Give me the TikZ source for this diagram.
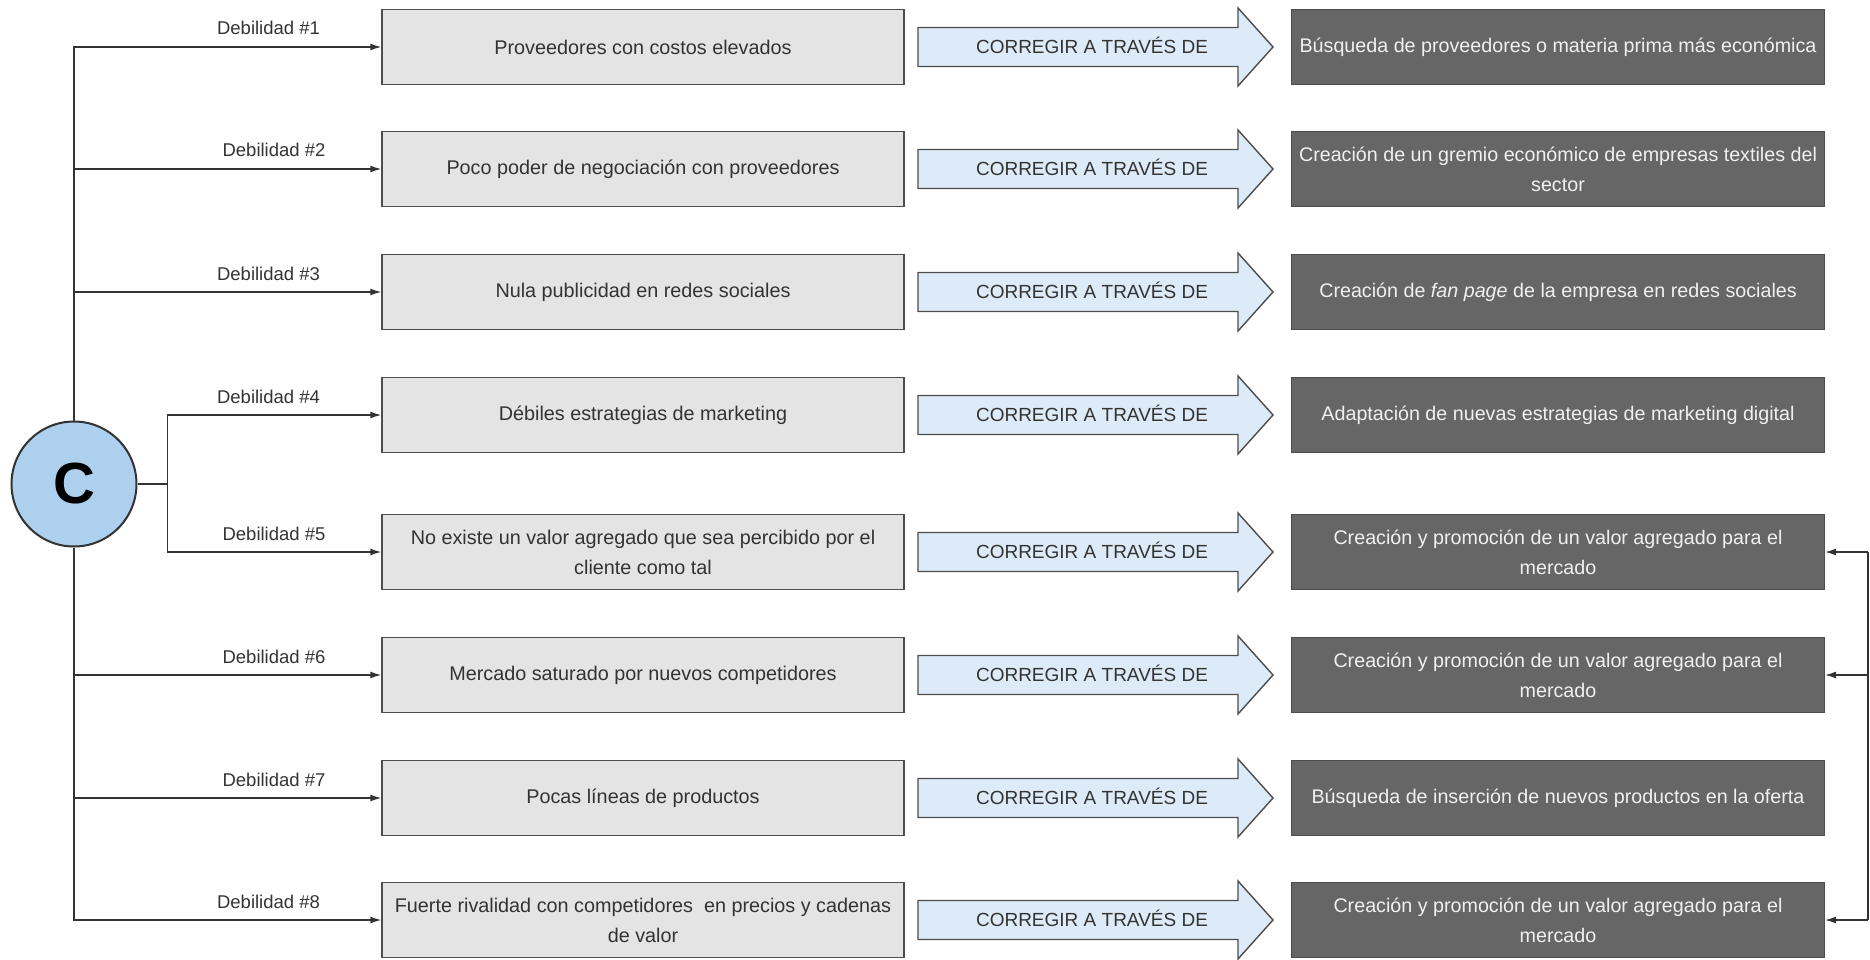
\documentclass[tikz,border=0pt]{standalone}
\usepackage{fontspec}
\setmainfont{Liberation Sans}
\usetikzlibrary{arrows.meta}
\definecolor{linec}{HTML}{333333}
\definecolor{boxline}{HTML}{4D4D4D}
\definecolor{weakfill}{HTML}{E4E4E4}
\definecolor{arrowfill}{HTML}{DCEBF7}
\definecolor{fixfill}{HTML}{666666}
\definecolor{fixtext}{HTML}{F0F0F0}
\definecolor{textdark}{HTML}{333333}
\definecolor{hubfill}{HTML}{AED0EF}
\begin{document}
\begin{tikzpicture}[x=1pt,y=-1pt,
  wire/.style={draw=linec, line width=1.4pt},
  tipped/.style={wire, -{Latex[length=11pt,width=7pt]}},
  weak/.style={draw=boxline, line width=1.4pt, fill=weakfill, text=textdark,
    minimum width=522pt, minimum height=75pt, inner sep=0pt, align=center,
    font=\fontsize{19.8}{30}\selectfont},
  fix/.style={draw=boxline, line width=1pt, fill=fixfill, text=fixtext,
    minimum width=533pt, minimum height=75pt, inner sep=0pt, align=center,
    font=\fontsize{19.7}{30}\selectfont},
  corr/.style={text=textdark, font=\fontsize{19}{22}\selectfont, inner sep=0pt,
    text height=13.6pt, text depth=0pt},
  corrbody/.style={draw=boxline, line width=1.4pt, fill=arrowfill},
  lbl/.style={text=textdark, font=\fontsize{18.5}{22}\selectfont, anchor=base, inner sep=0pt},
  hubstyle/.style={circle, draw=linec, line width=2pt, fill=hubfill, minimum size=125pt,
    inner sep=0pt, font=\fontsize{58}{60}\bfseries\selectfont, text=black}
]
\useasboundingbox (0,0) rectangle (1870,960);

% central hub
\node[hubstyle] (hub) at (74,484) {C};

% weaknesses (left column)
\node[weak] (w1) at (643,47)  {Proveedores con costos elevados};
\node[weak] (w2) at (643,169) {Poco poder de negociación con proveedores};
\node[weak] (w3) at (643,292) {Nula publicidad en redes sociales};
\node[weak] (w4) at (643,415) {Débiles estrategias de marketing};
\node[weak] (w5) at (643,552) {No existe un valor agregado que sea percibido por el\\cliente como tal};
\node[weak] (w6) at (643,675) {Mercado saturado por nuevos competidores};
\node[weak] (w7) at (643,798) {Pocas líneas de productos};
\node[weak] (w8) at (643,920) {Fuerte rivalidad con competidores \ en precios y cadenas\\de valor};

% corrective actions (right column)
\node[fix] (s1) at (1558,47)  {Búsqueda de proveedores o materia prima más económica};
\node[fix] (s2) at (1558,169) {Creación de un gremio económico de empresas textiles del\\sector};
\node[fix] (s3) at (1558,292) {Creación de \textit{fan page} de la empresa en redes sociales};
\node[fix] (s4) at (1558,415) {Adaptación de nuevas estrategias de marketing digital};
\node[fix] (s5) at (1558,552) {Creación y promoción de un valor agregado para el\\mercado};
\node[fix] (s6) at (1558,675) {Creación y promoción de un valor agregado para el\\mercado};
\node[fix] (s7) at (1558,798) {Búsqueda de inserción de nuevos productos en la oferta};
\node[fix] (s8) at (1558,920) {Creación y promoción de un valor agregado para el\\mercado};

% block arrows between the columns
\foreach \i/\c in {1/47,2/169,3/292,4/415,5/552,6/675,7/798,8/920}{
  \draw[corrbody] (918,\c-19.5) -- (1238,\c-19.5) -- (1238,\c-39) -- (1273,\c)
    -- (1238,\c+39) -- (1238,\c+19.5) -- (918,\c+19.5) -- cycle;
  \node[corr] (a\i) at (1092,\c-0.5) {CORREGIR A TRAVÉS DE};
}

% tree from the hub to each weakness
\draw[tipped] (hub.north) |- (w1.west);
\draw[tipped] (hub.north) |- (w2.west);
\draw[tipped] (hub.north) |- (w3.west);
\draw[wire] (hub.east) -- ++(30,0) coordinate (br);
\draw[tipped] (br) |- (w4.west);
\draw[tipped] (br) |- (w5.west);
\draw[tipped] (hub.south) |- (w6.west);
\draw[tipped] (hub.south) |- (w7.west);
\draw[tipped] (hub.south) |- (w8.west);

% branch labels
\node[lbl] (d1) at (268.5,35)  {Debilidad \#1};
\node[lbl] (d2) at (274,157)   {Debilidad \#2};
\node[lbl] (d3) at (268.5,280) {Debilidad \#3};
\node[lbl] (d4) at (268.5,403) {Debilidad \#4};
\node[lbl] (d5) at (274,540)   {Debilidad \#5};
\node[lbl] (d6) at (274,663)   {Debilidad \#6};
\node[lbl] (d7) at (274,786)   {Debilidad \#7};
\node[lbl] (d8) at (268.5,908) {Debilidad \#8};

% shared feedback line on the right
\path (s5.east) ++(43,0) coordinate (r5);
\path (s6.east) ++(43,0) coordinate (r6);
\path (s8.east) ++(43,0) coordinate (r8);
\draw[wire] (r5) -- (r8);
\draw[tipped] (r5) -- (s5.east);
\draw[tipped] (r6) -- (s6.east);
\draw[tipped] (r8) -- (s8.east);
\end{tikzpicture}
\end{document}
